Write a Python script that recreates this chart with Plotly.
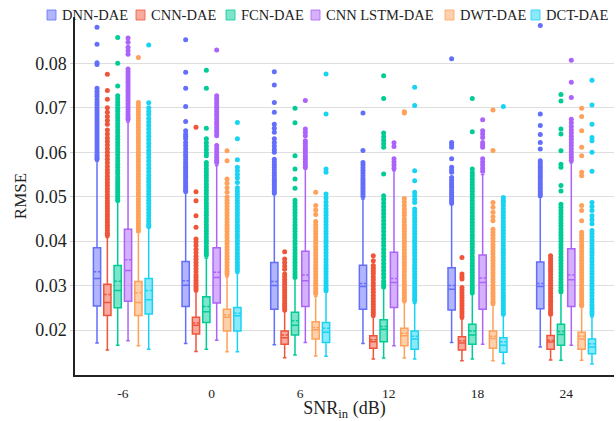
import plotly.graph_objects as go

SNR = ["-6", "0", "6", "12", "18", "24"]
MODELS = ["DNN-DAE", "CNN-DAE", "FCN-DAE", "CNN LSTM-DAE", "DWT-DAE", "DCT-DAE"]
COLORS = ["#636EFA", "#EF553B", "#00CC96", "#AB63FA", "#FFA15A", "#19D3F3"]
Y_TICKS = [0.02, 0.03, 0.04, 0.05, 0.06, 0.07, 0.08]

# ---------- DNN-DAE ----------
DNN_Q1 = [0.0254, 0.0253, 0.0247, 0.0247, 0.0245, 0.0248]
DNN_MED = [0.0316, 0.0301, 0.0300, 0.0298, 0.0292, 0.0298]
DNN_Q3 = [0.0385, 0.0354, 0.0352, 0.0346, 0.0340, 0.0353]
DNN_MEAN = [0.0331, 0.0311, 0.0309, 0.0305, 0.0300, 0.0305]
DNN_LO = [0.0171, 0.0170, 0.0167, 0.0170, 0.0172, 0.0162]
DNN_HI = [0.0580, 0.0508, 0.0505, 0.0495, 0.0482, 0.0500]
DNN_OUT = [
    [0.0881, 0.0843, 0.0801, 0.0797, 0.0744, 0.0737, 0.0731, 0.0725, 0.0718, 0.0712, 0.0706, 0.0700, 0.0694,
     0.0688, 0.0682, 0.0676, 0.0670, 0.0664, 0.0658, 0.0652, 0.0646, 0.0640, 0.0634, 0.0628, 0.0622, 0.0616,
     0.0610, 0.0604, 0.0598, 0.0593, 0.0588, 0.0584],
    [0.0853, 0.0780, 0.0744, 0.0703, 0.0669, 0.0648, 0.0641, 0.0636, 0.0630, 0.0622, 0.0615, 0.0608, 0.0601,
     0.0595, 0.0589, 0.0583, 0.0577, 0.0571, 0.0566, 0.0561, 0.0556, 0.0551, 0.0546, 0.0541, 0.0536, 0.0531,
     0.0526, 0.0521, 0.0516, 0.0512],
    [0.0781, 0.0751, 0.0712, 0.0690, 0.0663, 0.0654, 0.0645, 0.0630, 0.0622, 0.0614, 0.0606, 0.0600, 0.0584,
     0.0578, 0.0572, 0.0566, 0.0560, 0.0554, 0.0548, 0.0542, 0.0537, 0.0532, 0.0527, 0.0522, 0.0517, 0.0512,
     0.0508],
    [0.0688, 0.0604, 0.0577, 0.0571, 0.0565, 0.0559, 0.0553, 0.0547, 0.0541, 0.0536, 0.0531, 0.0526, 0.0521,
     0.0516, 0.0511, 0.0506, 0.0501],
    [0.0810, 0.0622, 0.0617, 0.0611, 0.0585, 0.0566, 0.0560, 0.0555, 0.0543, 0.0537, 0.0531, 0.0526, 0.0521,
     0.0515, 0.0510, 0.0505, 0.0500, 0.0495, 0.0490, 0.0486],
    [0.0885, 0.0686, 0.0660, 0.0640, 0.0622, 0.0607, 0.0581, 0.0576, 0.0571, 0.0566, 0.0561, 0.0556, 0.0551,
     0.0546, 0.0541, 0.0536, 0.0531, 0.0526, 0.0521, 0.0516, 0.0511, 0.0506, 0.0502],
]

# ---------- CNN-DAE ----------
CNN_Q1 = [0.0233, 0.0191, 0.0168, 0.0159, 0.0155, 0.0157]
CNN_MED = [0.0262, 0.0211, 0.0183, 0.0174, 0.0171, 0.0173]
CNN_Q3 = [0.0303, 0.0229, 0.0198, 0.0187, 0.0185, 0.0188]
CNN_MEAN = [0.0280, 0.0216, 0.0189, 0.0178, 0.0176, 0.0177]
CNN_LO = [0.0155, 0.0152, 0.0138, 0.0135, 0.0131, 0.0133]
CNN_HI = [0.0408, 0.0286, 0.0242, 0.0229, 0.0225, 0.0233]
CNN_OUT = [
    [0.0775, 0.0739, 0.0719, 0.0700, 0.0690, 0.0680, 0.0671, 0.0663, 0.0650, 0.0641, 0.0632, 0.0624, 0.0616,
     0.0608, 0.0600, 0.0592, 0.0584, 0.0576, 0.0568, 0.0560, 0.0553, 0.0546, 0.0539, 0.0532, 0.0525, 0.0518,
     0.0511, 0.0504, 0.0497, 0.0490, 0.0484, 0.0478, 0.0472, 0.0466, 0.0460, 0.0454, 0.0448, 0.0442, 0.0436,
     0.0430, 0.0424, 0.0418, 0.0413],
    [0.0656, 0.0511, 0.0491, 0.0457, 0.0431, 0.0405, 0.0398, 0.0390, 0.0382, 0.0374, 0.0366, 0.0359, 0.0352,
     0.0345, 0.0338, 0.0331, 0.0324, 0.0318, 0.0312, 0.0306, 0.0300, 0.0295, 0.0290],
    [0.0376, 0.0360, 0.0352, 0.0344, 0.0337, 0.0326, 0.0320, 0.0314, 0.0308, 0.0302, 0.0296, 0.0290, 0.0284,
     0.0278, 0.0272, 0.0266, 0.0260, 0.0255, 0.0250, 0.0245],
    [0.0367, 0.0356, 0.0345, 0.0339, 0.0333, 0.0327, 0.0320, 0.0313, 0.0306, 0.0299, 0.0292, 0.0285, 0.0278,
     0.0271, 0.0264, 0.0258, 0.0252, 0.0246, 0.0240, 0.0234],
    [0.0363, 0.0326, 0.0320, 0.0315, 0.0296, 0.0290, 0.0284, 0.0278, 0.0272, 0.0266, 0.0260, 0.0254, 0.0248,
     0.0242, 0.0236, 0.0230],
    [0.0367, 0.0361, 0.0355, 0.0349, 0.0343, 0.0337, 0.0331, 0.0325, 0.0318, 0.0312, 0.0306, 0.0300, 0.0294,
     0.0288, 0.0282, 0.0276, 0.0270, 0.0264, 0.0258, 0.0252, 0.0246, 0.0240, 0.0236],
]

# ---------- FCN-DAE ----------
FCN_Q1 = [0.0250, 0.0217, 0.0189, 0.0174, 0.0168, 0.0166]
FCN_MED = [0.0289, 0.0241, 0.0211, 0.0202, 0.0189, 0.0190]
FCN_Q3 = [0.0345, 0.0275, 0.0240, 0.0223, 0.0213, 0.0213]
FCN_MEAN = [0.0310, 0.0253, 0.0221, 0.0208, 0.0198, 0.0197]
FCN_LO = [0.0166, 0.0157, 0.0144, 0.0137, 0.0135, 0.0132]
FCN_HI = [0.0488, 0.0362, 0.0316, 0.0295, 0.0280, 0.0283]
FCN_OUT = [
    [0.0858, 0.0800, 0.0749, 0.0727, 0.0720, 0.0713, 0.0706, 0.0699, 0.0692, 0.0685, 0.0678, 0.0671, 0.0664,
     0.0657, 0.0650, 0.0643, 0.0636, 0.0629, 0.0622, 0.0615, 0.0608, 0.0601, 0.0594, 0.0587, 0.0580, 0.0573,
     0.0566, 0.0559, 0.0552, 0.0545, 0.0538, 0.0532, 0.0526, 0.0520, 0.0514, 0.0508, 0.0502, 0.0497, 0.0492],
    [0.0784, 0.0744, 0.0654, 0.0630, 0.0622, 0.0614, 0.0606, 0.0598, 0.0592, 0.0577, 0.0570, 0.0563, 0.0556,
     0.0549, 0.0542, 0.0535, 0.0528, 0.0521, 0.0514, 0.0507, 0.0500, 0.0493, 0.0486, 0.0479, 0.0472, 0.0465,
     0.0458, 0.0451, 0.0444, 0.0437, 0.0430, 0.0423, 0.0416, 0.0409, 0.0402, 0.0395, 0.0388, 0.0381, 0.0375,
     0.0369],
    [0.0699, 0.0666, 0.0592, 0.0562, 0.0540, 0.0519, 0.0492, 0.0485, 0.0478, 0.0471, 0.0464, 0.0457, 0.0450,
     0.0443, 0.0436, 0.0429, 0.0422, 0.0415, 0.0408, 0.0401, 0.0394, 0.0387, 0.0380, 0.0373, 0.0366, 0.0359,
     0.0352, 0.0345, 0.0338, 0.0331, 0.0325, 0.0319],
    [0.0772, 0.0721, 0.0643, 0.0635, 0.0627, 0.0619, 0.0611, 0.0551, 0.0502, 0.0494, 0.0486, 0.0478, 0.0470,
     0.0462, 0.0454, 0.0446, 0.0438, 0.0430, 0.0422, 0.0414, 0.0406, 0.0398, 0.0390, 0.0382, 0.0374, 0.0366,
     0.0358, 0.0350, 0.0342, 0.0334, 0.0326, 0.0318, 0.0310, 0.0303, 0.0297],
    [0.0721, 0.0646, 0.0562, 0.0554, 0.0547, 0.0540, 0.0533, 0.0526, 0.0519, 0.0512, 0.0505, 0.0498, 0.0491,
     0.0484, 0.0477, 0.0470, 0.0463, 0.0456, 0.0449, 0.0442, 0.0435, 0.0428, 0.0421, 0.0414, 0.0407, 0.0400,
     0.0393, 0.0386, 0.0379, 0.0372, 0.0365, 0.0358, 0.0351, 0.0344, 0.0337, 0.0330, 0.0323, 0.0316, 0.0309,
     0.0302, 0.0296, 0.0290, 0.0284],
    [0.0730, 0.0715, 0.0652, 0.0641, 0.0603, 0.0573, 0.0566, 0.0525, 0.0513, 0.0483, 0.0476, 0.0469, 0.0462,
     0.0455, 0.0448, 0.0441, 0.0434, 0.0427, 0.0420, 0.0413, 0.0406, 0.0399, 0.0392, 0.0385, 0.0378, 0.0371,
     0.0364, 0.0357, 0.0350, 0.0343, 0.0336, 0.0329, 0.0322, 0.0315, 0.0308, 0.0302, 0.0296, 0.0290, 0.0286],
]

# ---------- CNN LSTM-DAE ----------
LSTM_Q1 = [0.0265, 0.0261, 0.0253, 0.0251, 0.0247, 0.0253]
LSTM_MED = [0.0334, 0.0318, 0.0311, 0.0307, 0.0307, 0.0313]
LSTM_Q3 = [0.0427, 0.0385, 0.0377, 0.0375, 0.0369, 0.0383]
LSTM_MEAN = [0.0358, 0.0330, 0.0324, 0.0316, 0.0317, 0.0324]
LSTM_LO = [0.0176, 0.0177, 0.0172, 0.0165, 0.0168, 0.0166]
LSTM_HI = [0.0668, 0.0570, 0.0562, 0.0558, 0.0550, 0.0576]
LSTM_OUT = [
    [0.0857, 0.0847, 0.0836, 0.0828, 0.0820, 0.0787, 0.0781, 0.0775, 0.0769, 0.0763, 0.0757, 0.0751, 0.0745,
     0.0739, 0.0733, 0.0727, 0.0721, 0.0715, 0.0709, 0.0703, 0.0697, 0.0691, 0.0685, 0.0679, 0.0674],
    [0.0830, 0.0727, 0.0721, 0.0715, 0.0709, 0.0703, 0.0697, 0.0691, 0.0685, 0.0679, 0.0673, 0.0667, 0.0661,
     0.0655, 0.0649, 0.0643, 0.0637, 0.0615, 0.0608, 0.0601, 0.0594, 0.0588, 0.0582, 0.0577],
    [0.0716, 0.0652, 0.0645, 0.0637, 0.0626, 0.0620, 0.0614, 0.0608, 0.0602, 0.0596, 0.0590, 0.0584, 0.0578,
     0.0572, 0.0566],
    [0.0621, 0.0613, 0.0585, 0.0578, 0.0571, 0.0564],
    [0.0673, 0.0648, 0.0641, 0.0633, 0.0622, 0.0616, 0.0611, 0.0585, 0.0578, 0.0571, 0.0564, 0.0557],
    [0.0807, 0.0757, 0.0723, 0.0674, 0.0666, 0.0658, 0.0650, 0.0643, 0.0636, 0.0629, 0.0622, 0.0615, 0.0608,
     0.0601, 0.0594, 0.0588, 0.0582],
]

# ---------- DWT-DAE ----------
DWT_Q1 = [0.0233, 0.0198, 0.0180, 0.0165, 0.0159, 0.0157]
DWT_MED = [0.0262, 0.0229, 0.0201, 0.0187, 0.0181, 0.0180]
DWT_Q3 = [0.0309, 0.0247, 0.0219, 0.0204, 0.0198, 0.0195]
DWT_MEAN = [0.0284, 0.0234, 0.0206, 0.0193, 0.0186, 0.0186]
DWT_LO = [0.0165, 0.0151, 0.0142, 0.0137, 0.0131, 0.0132]
DWT_HI = [0.0420, 0.0320, 0.0276, 0.0262, 0.0256, 0.0252]
DWT_OUT = [
    [0.0813, 0.0712, 0.0705, 0.0698, 0.0691, 0.0684, 0.0677, 0.0670, 0.0663, 0.0656, 0.0649, 0.0642, 0.0635,
     0.0628, 0.0621, 0.0614, 0.0607, 0.0600, 0.0593, 0.0586, 0.0579, 0.0572, 0.0565, 0.0558, 0.0551, 0.0544,
     0.0537, 0.0530, 0.0523, 0.0516, 0.0509, 0.0502, 0.0495, 0.0488, 0.0481, 0.0474, 0.0467, 0.0460, 0.0453,
     0.0446, 0.0440, 0.0434, 0.0428, 0.0423],
    [0.0603, 0.0581, 0.0540, 0.0530, 0.0520, 0.0510, 0.0499, 0.0492, 0.0485, 0.0478, 0.0471, 0.0464, 0.0457,
     0.0450, 0.0443, 0.0436, 0.0429, 0.0422, 0.0415, 0.0408, 0.0401, 0.0394, 0.0387, 0.0380, 0.0373, 0.0366,
     0.0359, 0.0352, 0.0345, 0.0338, 0.0332, 0.0326],
    [0.0510, 0.0480, 0.0470, 0.0460, 0.0444, 0.0437, 0.0430, 0.0423, 0.0416, 0.0409, 0.0402, 0.0395, 0.0388,
     0.0381, 0.0374, 0.0367, 0.0360, 0.0353, 0.0346, 0.0339, 0.0332, 0.0325, 0.0318, 0.0311, 0.0305, 0.0299,
     0.0293, 0.0287, 0.0282],
    [0.0691, 0.0688, 0.0496, 0.0488, 0.0480, 0.0472, 0.0465, 0.0458, 0.0450, 0.0443, 0.0436, 0.0429, 0.0422,
     0.0415, 0.0408, 0.0401, 0.0394, 0.0387, 0.0380, 0.0373, 0.0366, 0.0359, 0.0352, 0.0345, 0.0338, 0.0331,
     0.0324, 0.0317, 0.0310, 0.0303, 0.0296, 0.0290, 0.0284, 0.0278, 0.0272, 0.0267],
    [0.0695, 0.0604, 0.0487, 0.0476, 0.0465, 0.0455, 0.0446, 0.0427, 0.0420, 0.0413, 0.0406, 0.0399, 0.0392,
     0.0385, 0.0378, 0.0371, 0.0364, 0.0357, 0.0350, 0.0343, 0.0336, 0.0329, 0.0322, 0.0315, 0.0308, 0.0301,
     0.0294, 0.0288, 0.0282, 0.0276, 0.0270, 0.0264, 0.0260],
    [0.0699, 0.0680, 0.0648, 0.0611, 0.0592, 0.0555, 0.0547, 0.0480, 0.0469, 0.0446, 0.0420, 0.0413, 0.0406,
     0.0399, 0.0392, 0.0385, 0.0378, 0.0371, 0.0364, 0.0357, 0.0350, 0.0343, 0.0336, 0.0329, 0.0322, 0.0315,
     0.0308, 0.0301, 0.0294, 0.0288, 0.0282, 0.0276, 0.0270, 0.0264, 0.0258, 0.0255],
]

# ---------- DCT-DAE ----------
DCT_Q1 = [0.0236, 0.0198, 0.0172, 0.0157, 0.0150, 0.0147]
DCT_MED = [0.0268, 0.0232, 0.0195, 0.0180, 0.0166, 0.0162]
DCT_Q3 = [0.0316, 0.0251, 0.0217, 0.0198, 0.0183, 0.0180]
DCT_MEAN = [0.0289, 0.0238, 0.0204, 0.0186, 0.0174, 0.0169]
DCT_LO = [0.0157, 0.0151, 0.0141, 0.0135, 0.0125, 0.0124]
DCT_HI = [0.0430, 0.0328, 0.0285, 0.0260, 0.0232, 0.0230]
DCT_OUT = [
    [0.0841, 0.0711, 0.0700, 0.0692, 0.0685, 0.0676, 0.0668, 0.0660, 0.0652, 0.0644, 0.0636, 0.0628, 0.0620,
     0.0612, 0.0604, 0.0596, 0.0588, 0.0580, 0.0572, 0.0564, 0.0556, 0.0548, 0.0541, 0.0534, 0.0527, 0.0520,
     0.0513, 0.0506, 0.0499, 0.0492, 0.0485, 0.0478, 0.0471, 0.0464, 0.0457, 0.0450, 0.0444, 0.0438, 0.0433],
    [0.0667, 0.0630, 0.0583, 0.0566, 0.0558, 0.0550, 0.0542, 0.0532, 0.0520, 0.0513, 0.0506, 0.0499, 0.0492,
     0.0485, 0.0478, 0.0471, 0.0464, 0.0457, 0.0450, 0.0443, 0.0436, 0.0429, 0.0422, 0.0415, 0.0408, 0.0401,
     0.0394, 0.0387, 0.0380, 0.0373, 0.0366, 0.0359, 0.0352, 0.0345, 0.0339, 0.0333],
    [0.0776, 0.0686, 0.0562, 0.0555, 0.0506, 0.0497, 0.0488, 0.0480, 0.0472, 0.0465, 0.0458, 0.0451, 0.0444,
     0.0437, 0.0430, 0.0423, 0.0416, 0.0409, 0.0402, 0.0395, 0.0388, 0.0381, 0.0374, 0.0367, 0.0360, 0.0353,
     0.0346, 0.0339, 0.0332, 0.0325, 0.0318, 0.0312, 0.0306, 0.0300, 0.0294, 0.0289],
    [0.0746, 0.0705, 0.0558, 0.0536, 0.0510, 0.0502, 0.0494, 0.0487, 0.0472, 0.0465, 0.0458, 0.0451, 0.0444,
     0.0437, 0.0430, 0.0423, 0.0416, 0.0409, 0.0402, 0.0395, 0.0388, 0.0381, 0.0374, 0.0367, 0.0360, 0.0353,
     0.0346, 0.0339, 0.0332, 0.0325, 0.0318, 0.0311, 0.0304, 0.0297, 0.0290, 0.0284, 0.0278, 0.0272, 0.0266],
    [0.0703, 0.0498, 0.0492, 0.0487, 0.0480, 0.0473, 0.0466, 0.0459, 0.0452, 0.0445, 0.0438, 0.0431, 0.0424,
     0.0417, 0.0410, 0.0403, 0.0396, 0.0389, 0.0382, 0.0375, 0.0368, 0.0361, 0.0354, 0.0347, 0.0340, 0.0333,
     0.0326, 0.0319, 0.0312, 0.0305, 0.0298, 0.0291, 0.0284, 0.0278, 0.0272, 0.0266, 0.0260, 0.0254, 0.0248,
     0.0242, 0.0237],
    [0.0762, 0.0706, 0.0663, 0.0633, 0.0626, 0.0600, 0.0557, 0.0487, 0.0478, 0.0469, 0.0457, 0.0448, 0.0439,
     0.0424, 0.0417, 0.0410, 0.0403, 0.0396, 0.0389, 0.0382, 0.0375, 0.0368, 0.0361, 0.0354, 0.0347, 0.0340,
     0.0333, 0.0326, 0.0319, 0.0312, 0.0305, 0.0298, 0.0291, 0.0284, 0.0277, 0.0270, 0.0263, 0.0256, 0.0249,
     0.0242, 0.0236],
]

STATS = [
    (DNN_Q1, DNN_MED, DNN_Q3, DNN_MEAN, DNN_LO, DNN_HI, DNN_OUT),
    (CNN_Q1, CNN_MED, CNN_Q3, CNN_MEAN, CNN_LO, CNN_HI, CNN_OUT),
    (FCN_Q1, FCN_MED, FCN_Q3, FCN_MEAN, FCN_LO, FCN_HI, FCN_OUT),
    (LSTM_Q1, LSTM_MED, LSTM_Q3, LSTM_MEAN, LSTM_LO, LSTM_HI, LSTM_OUT),
    (DWT_Q1, DWT_MED, DWT_Q3, DWT_MEAN, DWT_LO, DWT_HI, DWT_OUT),
    (DCT_Q1, DCT_MED, DCT_Q3, DCT_MEAN, DCT_LO, DCT_HI, DCT_OUT),
]

SERIF = "Liberation Serif, Times New Roman, Times, serif"


def rgba(hex_color, a):
    h = hex_color.lstrip("#")
    r, g, b = int(h[0:2], 16), int(h[2:4], 16), int(h[4:6], 16)
    return f"rgba({r},{g},{b},{a})"


fig = go.Figure()
for name, color, (q1, med, q3, mean, lo, hi, out) in zip(MODELS, COLORS, STATS):
    fig.add_trace(go.Box(
        name=name, x=SNR, y=out,
        q1=q1, median=med, q3=q3, mean=mean, lowerfence=lo, upperfence=hi,
        boxmean=True, boxpoints="outliers", jitter=0, pointpos=0,
        line=dict(color=color, width=1.5), fillcolor=rgba(color, 0.5),
        marker=dict(color=color, size=5),
        showlegend=False,
    ))

W, H = 616, 421
ML, MR, MT, MB = 75, 2, 17, 46
PW, PH = W - ML - MR, H - MT - MB


def px_x(p):
    return (p - ML) / PW


def px_y(p):
    return (H - MB - p) / PH


# compact legend drawn as real text + colour swatches
LEG_SQ_X = [47, 136, 226, 311, 445, 531]
shapes, annotations = [], []
for name, color, sx in zip(MODELS, COLORS, LEG_SQ_X):
    shapes.append(dict(type="rect", xref="paper", yref="paper",
                       x0=px_x(sx), x1=px_x(sx + 9), y0=px_y(20), y1=px_y(10),
                       fillcolor=rgba(color, 0.5), line=dict(color=rgba(color, 0.8), width=1)))
    annotations.append(dict(xref="paper", yref="paper", x=px_x(sx + 13), y=px_y(15),
                            xanchor="left", yanchor="middle", showarrow=False, text=name,
                            font=dict(family=SERIF, size=14.5, color="#222")))

fig.update_layout(
    width=W, height=H,
    margin=dict(l=ML, r=MR, t=MT, b=MB),
    paper_bgcolor="white", plot_bgcolor="white",
    font=dict(family=SERIF, color="#222"),
    boxmode="group", boxgap=0.3, boxgroupgap=0.3,
    showlegend=False,
    shapes=shapes, annotations=annotations,
    xaxis=dict(type="category", range=[-0.54, 5.54], showline=True, linecolor="#222", linewidth=2,
               showgrid=False, ticks="", tickfont=dict(family=SERIF, size=13.5, color="#222"),
               ticklabelstandoff=5,
               title=dict(text="SNR<sub>in</sub> (dB)", font=dict(family=SERIF, size=18, color="#222"),
                          standoff=4)),
    yaxis=dict(range=[0.0099, 0.0904], tickvals=Y_TICKS, tickformat=".2f",
               showline=True, linecolor="#222", linewidth=1.5,
               showgrid=True, gridcolor="#dedede", gridwidth=1, zeroline=False,
               ticks="outside", ticklen=3, tickcolor="#cccccc",
               tickfont=dict(family=SERIF, size=18, color="#222"),
               title=dict(text="RMSE", font=dict(family=SERIF, size=17, color="#222"), standoff=4)),
)

fig.write_html("out.html")
